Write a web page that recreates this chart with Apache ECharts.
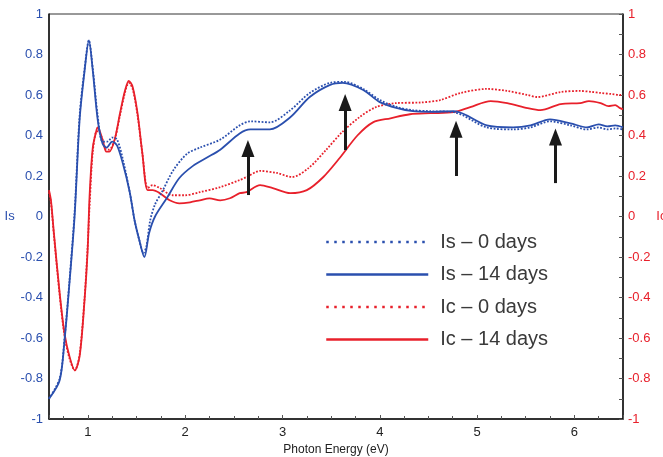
<!DOCTYPE html>
<html>
<head>
<meta charset="utf-8">
<script src="https://cdn.jsdelivr.net/npm/echarts@6/dist/echarts.min.js"></script>
<style>html,body{margin:0;padding:0;background:#fff;}#c{width:663px;height:457px;}</style>
</head>
<body>
<div id="c"></div>
<script>
// Is – 0 days (dotted blue)
const is0 = [[0.6,-0.9],[0.71,-0.8],[0.76,-0.6],[0.81,-0.32],[0.863,0.02],[0.915,0.5],[0.966,0.73],[1.01,0.87],[1.05,0.73],[1.10,0.5],[1.15,0.37],[1.20,0.37],[1.25,0.39],[1.30,0.38],[1.36,0.28],[1.43,0.12],[1.48,-0.02],[1.53,-0.12],[1.57,-0.18],[1.60,-0.15],[1.64,-0.02],[1.69,0.06],[1.76,0.12],[1.88,0.23],[2.02,0.31],[2.15,0.34],[2.36,0.38],[2.56,0.45],[2.67,0.47],[2.87,0.465],[3.08,0.525],[3.28,0.61],[3.49,0.66],[3.64,0.665],[3.83,0.63],[4.0,0.575],[4.18,0.54],[4.34,0.525],[4.52,0.52],[4.76,0.515],[5.10,0.44],[5.37,0.43],[5.55,0.44],[5.75,0.47],[5.96,0.45],[6.13,0.43],[6.25,0.44],[6.34,0.43],[6.42,0.435],[6.5,0.43]];
// Is – 14 days (solid blue)
const is14 = [[0.6,-0.9],[0.709,-0.81],[0.76,-0.61],[0.81,-0.33],[0.863,0.0],[0.915,0.48],[0.966,0.72],[1.01,0.87],[1.05,0.72],[1.10,0.48],[1.15,0.36],[1.19,0.34],[1.25,0.37],[1.30,0.35],[1.36,0.26],[1.43,0.12],[1.48,-0.02],[1.53,-0.12],[1.58,-0.2],[1.63,-0.08],[1.69,0.0],[1.81,0.09],[1.94,0.19],[2.08,0.25],[2.22,0.29],[2.36,0.33],[2.56,0.41],[2.67,0.43],[2.87,0.43],[3.08,0.49],[3.28,0.59],[3.49,0.65],[3.62,0.66],[3.83,0.625],[4.0,0.565],[4.18,0.535],[4.34,0.52],[4.52,0.517],[4.76,0.52],[5.10,0.45],[5.37,0.44],[5.55,0.45],[5.75,0.48],[5.96,0.46],[6.13,0.44],[6.25,0.455],[6.34,0.445],[6.42,0.45],[6.5,0.44]];
// Ic – 0 days (dotted red)
const ic0 = [[0.6,0.12],[0.62,0.07],[0.65,-0.09],[0.71,-0.39],[0.76,-0.59],[0.81,-0.7],[0.865,-0.76],[0.915,-0.68],[0.966,-0.4],[0.997,-0.15],[1.02,0.08],[1.05,0.32],[1.09,0.42],[1.11,0.42],[1.15,0.38],[1.19,0.33],[1.22,0.33],[1.275,0.38],[1.33,0.5],[1.38,0.61],[1.42,0.66],[1.46,0.63],[1.51,0.5],[1.56,0.31],[1.615,0.14],[1.665,0.155],[1.74,0.14],[1.87,0.105],[2.0,0.105],[2.15,0.12],[2.36,0.145],[2.56,0.18],[2.63,0.195],[2.77,0.225],[2.94,0.215],[3.10,0.195],[3.27,0.24],[3.45,0.33],[3.61,0.415],[3.79,0.49],[3.96,0.54],[4.17,0.56],[4.42,0.563],[4.62,0.575],[4.83,0.61],[5.10,0.63],[5.31,0.62],[5.52,0.6],[5.62,0.59],[5.86,0.615],[6.06,0.62],[6.18,0.615],[6.27,0.61],[6.38,0.605],[6.47,0.6],[6.5,0.6]];
// Ic – 14 days (solid red)
const ic14 = [[0.6,0.13],[0.62,0.08],[0.65,-0.08],[0.71,-0.38],[0.76,-0.58],[0.81,-0.69],[0.865,-0.76],[0.915,-0.69],[0.966,-0.41],[0.997,-0.17],[1.017,0.1],[1.05,0.34],[1.09,0.43],[1.10,0.44],[1.15,0.38],[1.19,0.32],[1.22,0.32],[1.275,0.38],[1.33,0.51],[1.38,0.62],[1.42,0.67],[1.46,0.64],[1.51,0.51],[1.56,0.31],[1.615,0.13],[1.665,0.13],[1.74,0.115],[1.84,0.08],[1.94,0.065],[2.05,0.07],[2.15,0.08],[2.25,0.09],[2.36,0.08],[2.46,0.09],[2.56,0.115],[2.63,0.12],[2.77,0.155],[2.90,0.14],[3.08,0.115],[3.25,0.13],[3.42,0.195],[3.59,0.29],[3.77,0.4],[3.93,0.465],[4.11,0.485],[4.31,0.505],[4.52,0.51],[4.76,0.515],[4.93,0.54],[5.14,0.57],[5.31,0.56],[5.52,0.535],[5.65,0.525],[5.86,0.555],[6.06,0.56],[6.15,0.57],[6.27,0.56],[6.35,0.545],[6.42,0.55],[6.47,0.535],[6.5,0.53]];
// arrows (data coordinates: shaft base and shaft end, head drawn beyond the end)
const arrowX = [2.645, 3.644, 4.784, 5.806];
const arrowBase = [0.106, 0.328, 0.200, 0.165];
const arrowEnd = [0.336, 0.563, 0.431, 0.393];
const legendNames = ['Is – 0 days','Is – 14 days','Ic – 0 days','Ic – 14 days'];

const BLUE = '#2a4fae', RED = '#e8202b';
const chart = echarts.init(document.getElementById('c'), null, {renderer:'canvas'});
const font = 'Liberation Sans, Arial, sans-serif';
const arrowData = arrowX.map((x,i)=>[{coord:[x,arrowBase[i]]},{coord:[x,arrowEnd[i]]}]);
const dotLegend = [2.5,5.5];

chart.setOption({
  animation:false,
  backgroundColor:'#fff',
  grid:{left:49,right:40,top:14,bottom:38,show:true,borderColor:'#333',borderWidth:1,containLabel:false,outerBoundsMode:'none'},
  legend:{
    orient:'vertical', left:325, top:232, padding:0,
    itemWidth:102, itemHeight:14, itemGap:12.5,
    textStyle:{fontFamily:font,fontSize:20,color:'#3a3a3a',padding:[0,0,0,7],lineHeight:20},
    data:[
      {name:legendNames[0], itemStyle:{opacity:0}, lineStyle:{type:dotLegend,width:2.5,color:BLUE}},
      {name:legendNames[1], itemStyle:{opacity:0}, lineStyle:{type:'solid',width:2.5,color:BLUE}},
      {name:legendNames[2], itemStyle:{opacity:0}, lineStyle:{type:dotLegend,width:2.5,color:RED}},
      {name:legendNames[3], itemStyle:{opacity:0}, lineStyle:{type:'solid',width:2.5,color:RED}}
    ]
  },
  xAxis:{
    type:'value', min:0.6, max:6.5,
    name:'Photon Energy (eV)', nameLocation:'middle', nameGap:20,
    nameTextStyle:{fontFamily:font,fontSize:12,color:'#222'},
    axisLine:{show:true,onZero:false,lineStyle:{color:'#111',width:1.5}},
    axisTick:{show:true,inside:true,length:4,lineStyle:{color:'#555'}},
    minorTick:{show:true,splitNumber:4,length:3,lineStyle:{color:'#555'}},
    axisLabel:{fontFamily:font,fontSize:13,color:'#222',margin:7,showMinLabel:false,showMaxLabel:false},
    splitLine:{show:false}, minorSplitLine:{show:false}
  },
  yAxis:[
    {type:'value',min:-1,max:1,interval:0.2,position:'left',
     name:'Is',nameLocation:'middle',nameRotate:0,nameGap:33,
     nameTextStyle:{fontFamily:font,fontSize:13,color:BLUE},
     axisLine:{show:true,onZero:false,lineStyle:{color:'#111',width:1.5}},
     axisTick:{show:false},
     axisLabel:{fontFamily:font,fontSize:13,color:BLUE,margin:6},
     splitLine:{show:false}},
    {type:'value',min:-1,max:1,interval:0.2,position:'right',
     name:'Ic',nameLocation:'middle',nameRotate:0,nameGap:32,
     nameTextStyle:{fontFamily:font,fontSize:13,color:RED},
     axisLine:{show:true,onZero:false,lineStyle:{color:'#111',width:1.5}},
     axisTick:{show:true,inside:true,length:4,lineStyle:{color:'#555'}},
     minorTick:{show:true,splitNumber:2,length:4,lineStyle:{color:'#555'}},
     axisLabel:{fontFamily:font,fontSize:13,color:RED,margin:5},
     splitLine:{show:false}}
  ],
  series:[
    {name:legendNames[2],type:'line',yAxisIndex:1,data:ic0,symbol:'none',smooth:0.3,
     lineStyle:{color:RED,width:1.8,type:[1.8,1.6]},itemStyle:{color:RED}},
    {name:legendNames[3],type:'line',yAxisIndex:1,data:ic14,symbol:'none',smooth:0.3,
     lineStyle:{color:RED,width:1.8,type:'solid'},itemStyle:{color:RED}},
    {name:legendNames[0],type:'line',yAxisIndex:0,data:is0,symbol:'none',smooth:0.3,
     lineStyle:{color:BLUE,width:1.8,type:[1.8,1.6]},itemStyle:{color:BLUE}},
    {name:legendNames[1],type:'line',yAxisIndex:0,data:is14,symbol:'none',smooth:0.3,
     lineStyle:{color:BLUE,width:1.8,type:'solid'},itemStyle:{color:BLUE}},
    {name:'arrows',type:'line',yAxisIndex:0,data:[],symbol:'none',
     markLine:{silent:true,symbol:['none','triangle'],symbolSize:[13,17],
       label:{show:false},emphasis:{disabled:true},
       lineStyle:{color:'#1a1a1a',width:3,type:'solid'},data:arrowData}}
  ]
});
</script>
</body>
</html>
